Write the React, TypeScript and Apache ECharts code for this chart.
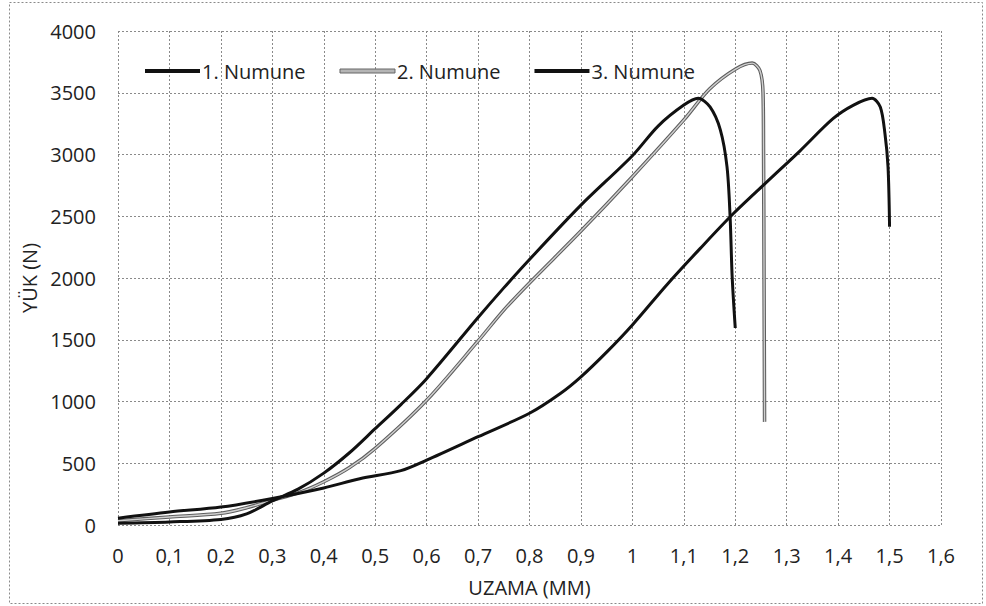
import React, { useEffect, useRef } from "react";
import * as echarts from "echarts";

const seriesNames = ["1. Numune", "2. Numune", "3. Numune"];

const numune1: [number, number][] = [
  [0, 15], [0.1, 25], [0.2, 45], [0.25, 90], [0.3, 195], [0.35, 290], [0.4, 420],
  [0.45, 585], [0.5, 780], [0.55, 975], [0.6, 1185], [0.7, 1680], [0.75, 1920],
  [0.8, 2150], [0.9, 2590], [1.0, 2990], [1.05, 3230], [1.1, 3400], [1.128, 3455],
  [1.151, 3385], [1.171, 3200], [1.184, 2900], [1.19, 2495], [1.194, 2010], [1.2, 1595],
];

const numune2: [number, number][] = [
  [0, 35], [0.1, 65], [0.2, 95], [0.25, 140], [0.3, 200], [0.35, 260], [0.4, 350],
  [0.45, 465], [0.5, 620], [0.6, 1010], [0.7, 1490], [0.75, 1740], [0.8, 1960],
  [0.9, 2380], [1.0, 2820], [1.1, 3280], [1.15, 3530], [1.2, 3690], [1.233, 3740],
  [1.248, 3680], [1.254, 3500], [1.255, 3035], [1.256, 2000], [1.257, 835],
];

const numune3: [number, number][] = [
  [0, 55], [0.1, 105], [0.2, 145], [0.3, 215], [0.4, 300], [0.47, 375], [0.55, 440],
  [0.6, 525], [0.7, 715], [0.8, 905], [0.86, 1065], [0.9, 1200], [0.95, 1400],
  [1.0, 1620], [1.068, 1950], [1.132, 2240], [1.196, 2520], [1.262, 2780],
  [1.326, 3030], [1.39, 3290], [1.43, 3400], [1.466, 3455], [1.482, 3385],
  [1.491, 3170], [1.497, 2900], [1.5, 2415],
];

const xTitle = "UZAMA (MM)";
const yTitle = "YÜK (N)";

const FONT = "Open Sans";

export default function App() {
  const ref = useRef<HTMLDivElement>(null);
  useEffect(() => {
    document.body.style.margin = "0";
    const chart = echarts.init(ref.current!, undefined, { renderer: "svg" });
    const fmt = (v: number) => String(Math.round(v * 10) / 10).replace(".", ",");
    const lineCommon = { type: "line", showSymbol: false, smooth: 0.3 };
    chart.setOption({
      animation: false,
      backgroundColor: "#ffffff",
      textStyle: { fontFamily: FONT },
      grid: { left: 118, right: 45, top: 31, bottom: 81 },
      legend: {
        data: [
          { name: seriesNames[0], itemStyle: { color: "#111" } },
          { name: seriesNames[1], itemStyle: { color: "#b5b5b5", borderColor: "#666", borderWidth: 1 } },
          { name: seriesNames[2], itemStyle: { color: "#111" } },
        ],
        left: 140,
        top: 56,
        icon: "rect",
        itemWidth: 55,
        itemHeight: 4,
        itemGap: 34,
        textStyle: { fontFamily: FONT, fontSize: 20, color: "#222", padding: [0, 0, 0, -3] },
      },
      xAxis: {
        type: "value",
        min: 0,
        max: 1.6,
        interval: 0.1,
        name: xTitle,
        nameLocation: "middle",
        nameGap: 52,
        nameTextStyle: { fontFamily: FONT, fontSize: 20, color: "#222" },
        axisLine: { show: false },
        axisTick: { show: false },
        axisLabel: { formatter: fmt, fontFamily: FONT, fontSize: 20, color: "#222", margin: 20 },
        splitLine: { show: true, lineStyle: { color: "#8a8a8a", type: [2, 2], width: 1 } },
      },
      yAxis: {
        type: "value",
        min: 0,
        max: 4000,
        interval: 500,
        name: yTitle,
        nameLocation: "middle",
        nameGap: 62,
        nameRotate: 90,
        nameTextStyle: { fontFamily: FONT, fontSize: 20, color: "#222" },
        axisLine: { show: false },
        axisTick: { show: false },
        axisLabel: { formatter: (v: number) => String(v), fontFamily: FONT, fontSize: 20, color: "#222", margin: 22 },
        splitLine: { show: true, lineStyle: { color: "#8a8a8a", type: [2, 2], width: 1 } },
      },
      graphic: [
        {
          type: "rect",
          shape: { x: 9.5, y: 2.5, width: 973, height: 601 },
          style: { fill: "none", stroke: "#8a8a8a", lineWidth: 1, lineDash: [2, 2] },
          silent: true,
        },
      ],
      series: [
        {
          ...lineCommon,
          name: seriesNames[0],
          data: numune1,
          lineStyle: { color: "#111", width: 3 },
          itemStyle: { color: "#111" },
          z: 3,
        },
        {
          ...lineCommon,
          name: seriesNames[1],
          data: numune2,
          lineStyle: { color: "#5e5e5e", width: 3.5 },
          itemStyle: { color: "#b5b5b5" },
          z: 2,
        },
        {
          ...lineCommon,
          name: seriesNames[1] + " ",
          data: numune2,
          lineStyle: { color: "#cfcfcf", width: 1.4 },
          itemStyle: { color: "#cfcfcf" },
          z: 2,
        },
        {
          ...lineCommon,
          name: seriesNames[2],
          data: numune3,
          lineStyle: { color: "#111", width: 3 },
          itemStyle: { color: "#111" },
          z: 3,
        },
      ],
    });
    return () => chart.dispose();
  }, []);
  return <div ref={ref} style={{ width: 986, height: 606 }} />;
}
